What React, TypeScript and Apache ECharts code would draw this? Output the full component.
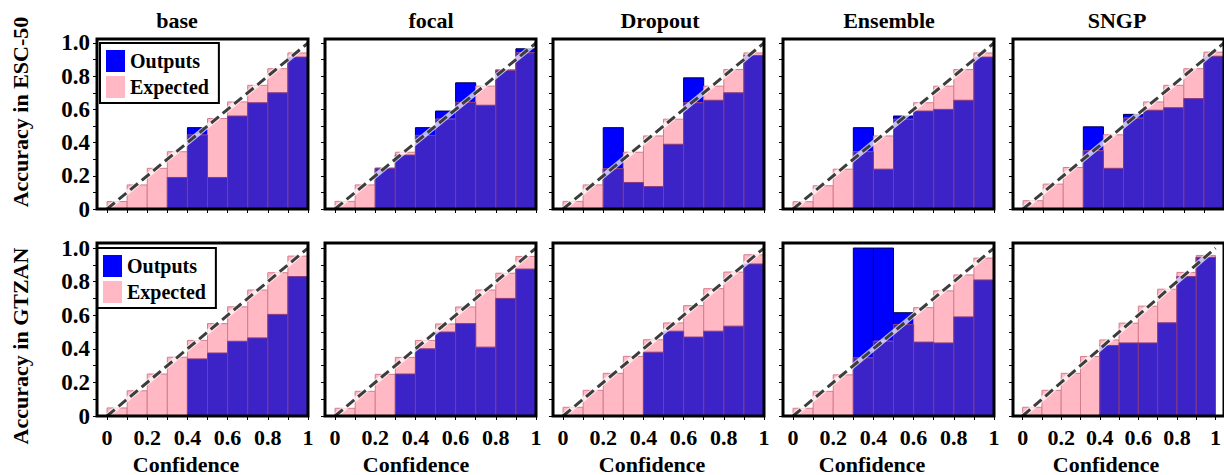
import React, { useEffect, useRef } from 'react';
import * as echarts from 'echarts';

// ---------- data ----------
const methods = ['base', 'focal', 'Dropout', 'Ensemble', 'SNGP'];
const datasets = ['ESC-50', 'GTZAN'];
const binEdges = [0, 0.1, 0.2, 0.3, 0.4, 0.5, 0.6, 0.7, 0.8, 0.9, 1.0];
const tickValues = [0, 0.2, 0.4, 0.6, 0.8, 1.0];
const xTickLabels = ['0', '0.2', '0.4', '0.6', '0.8', '1'];
const yTickLabels = ['0', '0.2', '0.4', '0.6', '0.8', '1.0'];

// ESC-50 (accuracy = Outputs, confidence = Expected)
const escBaseAcc = [0, 0, 0, 0.19, 0.49, 0.19, 0.56, 0.64, 0.70, 0.915];
const escBaseConf = [0.045, 0.145, 0.245, 0.345, 0.445, 0.545, 0.645, 0.745, 0.845, 0.94];
const escFocalAcc = [0, 0, 0.245, 0.325, 0.49, 0.59, 0.76, 0.625, 0.835, 0.965];
const escFocalConf = [0.046, 0.145, 0.245, 0.342, 0.443, 0.541, 0.642, 0.74, 0.84, 0.94];
const escDropoutAcc = [0, 0, 0.49, 0.16, 0.135, 0.39, 0.79, 0.655, 0.70, 0.925];
const escDropoutConf = [0.046, 0.145, 0.243, 0.342, 0.44, 0.541, 0.64, 0.74, 0.84, 0.94];
const escEnsembleAcc = [0, 0, 0, 0.49, 0.24, 0.56, 0.59, 0.60, 0.655, 0.915];
const escEnsembleConf = [0.044, 0.14, 0.24, 0.345, 0.44, 0.54, 0.64, 0.74, 0.84, 0.94];
const escSngpAcc = [0, 0, 0, 0.495, 0.245, 0.57, 0.595, 0.61, 0.665, 0.92];
const escSngpConf = [0.05, 0.15, 0.25, 0.35, 0.447, 0.547, 0.645, 0.745, 0.845, 0.945];

// GTZAN
const gtzBaseAcc = [0, 0, 0, 0, 0.34, 0.375, 0.445, 0.465, 0.605, 0.83];
const gtzBaseConf = [0.048, 0.15, 0.25, 0.35, 0.45, 0.55, 0.65, 0.75, 0.853, 0.952];
const gtzFocalAcc = [0, 0, 0, 0.25, 0.40, 0.50, 0.55, 0.41, 0.70, 0.875];
const gtzFocalConf = [0.046, 0.147, 0.248, 0.349, 0.45, 0.548, 0.649, 0.75, 0.85, 0.95];
const gtzDropoutAcc = [0, 0, 0, 0, 0.38, 0.505, 0.47, 0.505, 0.535, 0.905];
const gtzDropoutConf = [0.052, 0.153, 0.254, 0.355, 0.454, 0.554, 0.657, 0.758, 0.857, 0.96];
const gtzEnsembleAcc = [0, 0, 0, 1.0, 1.0, 0.615, 0.44, 0.435, 0.59, 0.81];
const gtzEnsembleConf = [0.046, 0.147, 0.245, 0.345, 0.445, 0.545, 0.645, 0.745, 0.84, 0.94];
const gtzSngpAcc = [0, 0, 0, 0, 0.42, 0.435, 0.435, 0.555, 0.83, 0.945];
const gtzSngpConf = [0.052, 0.153, 0.254, 0.354, 0.453, 0.553, 0.654, 0.755, 0.855, 0.956];

const accByRow = [
  [escBaseAcc, escFocalAcc, escDropoutAcc, escEnsembleAcc, escSngpAcc],
  [gtzBaseAcc, gtzFocalAcc, gtzDropoutAcc, gtzEnsembleAcc, gtzSngpAcc],
];
const confByRow = [
  [escBaseConf, escFocalConf, escDropoutConf, escEnsembleConf, escSngpConf],
  [gtzBaseConf, gtzFocalConf, gtzDropoutConf, gtzEnsembleConf, gtzSngpConf],
];

// ---------- layout / style ----------
const FONT = '"Liberation Serif", "Times New Roman", Times, serif';
const boxLefts = [97, 325, 553, 783, 1013];
const boxW = 211;
const xMin = -0.05;
const rowBoxes = [
  { top: 39, bottom: 209, yMax: 1.024 },
  { top: 243, bottom: 416, yMax: 1.03 },
];
const titleX = [177, 431, 660, 889, 1117];
const confX = [186, 416, 652, 872, 1106];
const yNamePos = [
  { x: 20, y: 112 },
  { x: 20, y: 346 },
];
const legendPos = [
  { left: 100, top: 43 },
  { left: 97, top: 248 },
];

const BLUE = '#0000ff';
const PINK = '#ffb8c4';
const PURPLE = '#3c23c7';

function barRender(fill: string, stroke: string, lw: number) {
  return (params: any, api: any) => {
    const x0 = api.value(0);
    const x1 = api.value(1);
    const v = api.value(2);
    if (!(v > 0)) return null;
    const a = api.coord([x0, v]);
    const b = api.coord([x1, 0]);
    return {
      type: 'rect',
      shape: { x: a[0], y: a[1], width: b[0] - a[0], height: b[1] - a[1] },
      style: { fill, stroke, lineWidth: lw },
    };
  };
}

function binData(vals: number[]) {
  return vals.map((v, k) => [binEdges[k], binEdges[k + 1], v]);
}

function tickLabel(labels: string[]) {
  return (v: number) => {
    const k = Math.round(v * 5);
    return Math.abs(v * 5 - k) < 1e-6 ? labels[k] ?? '' : '';
  };
}

function buildOption() {
  const grids: any[] = [];
  const xAxes: any[] = [];
  const yAxes: any[] = [];
  const series: any[] = [];
  const graphics: any[] = [];

  for (let r = 0; r < 2; r++) {
    const rb = rowBoxes[r];
    for (let c = 0; c < 5; c++) {
      const i = r * 5 + c;
      grids.push({
        left: boxLefts[c],
        top: rb.top,
        width: boxW,
        height: rb.bottom - rb.top,
        containLabel: false,
      });
      xAxes.push({
        gridIndex: i,
        type: 'value',
        position: 'bottom',
        min: xMin,
        max: 1,
        axisLine: { show: false, onZero: false },
        splitLine: { show: false },
        axisTick: {
          show: true,
          inside: false,
          length: 4,
          customValues: binEdges,
          lineStyle: { color: '#000', width: 1 },
        },
        axisLabel: {
          show: r === 1,
          customValues: tickValues,
          margin: 10,
          fontFamily: FONT,
          fontWeight: 'bold',
          fontSize: 22,
          color: '#000',
          formatter: tickLabel(xTickLabels),
        },
      });
      yAxes.push({
        gridIndex: i,
        type: 'value',
        position: 'left',
        min: 0,
        max: rb.yMax,
        axisLine: { show: false, onZero: false },
        splitLine: { show: false },
        axisTick: {
          show: true,
          inside: false,
          length: 4,
          customValues: binEdges,
          lineStyle: { color: '#000', width: 1 },
        },
        axisLabel: {
          show: c === 0,
          customValues: tickValues,
          margin: 7,
          fontFamily: FONT,
          fontWeight: 'bold',
          fontSize: 23,
          color: '#000',
          formatter: tickLabel(yTickLabels),
        },
      });

      const acc = accByRow[r][c];
      const conf = confByRow[r][c];
      const overlap = acc.map((a, k) => Math.min(a, conf[k]));

      series.push({
        type: 'custom',
        name: 'Outputs',
        xAxisIndex: i,
        yAxisIndex: i,
        data: binData(acc),
        encode: { x: [0, 1], y: 2 },
        renderItem: barRender(BLUE, '#00004a', 1),
        itemStyle: { color: BLUE },
        z: 2,
      });
      series.push({
        type: 'custom',
        name: 'Expected',
        xAxisIndex: i,
        yAxisIndex: i,
        data: binData(conf),
        encode: { x: [0, 1], y: 2 },
        renderItem: barRender(PINK, '#d47c8c', 1),
        itemStyle: { color: PINK },
        z: 3,
      });
      series.push({
        type: 'custom',
        name: 'Overlap',
        xAxisIndex: i,
        yAxisIndex: i,
        data: binData(overlap),
        encode: { x: [0, 1], y: 2 },
        renderItem: barRender(PURPLE, '#8a3a7e', 1),
        itemStyle: { color: PURPLE },
        z: 4,
      });
      series.push({
        type: 'line',
        name: 'diag-halo',
        xAxisIndex: i,
        yAxisIndex: i,
        data: [[0, 0], [1, 1]],
        symbol: 'none',
        silent: true,
        lineStyle: { color: '#ffffff', width: 5, opacity: 0.7 },
        z: 5,
      });
      series.push({
        type: 'line',
        name: 'diag',
        xAxisIndex: i,
        yAxisIndex: i,
        data: [[0, 0], [1, 1]],
        symbol: 'none',
        silent: true,
        lineStyle: { color: '#3d3d3d', width: 3, type: [10, 5] },
        z: 6,
      });

      graphics.push({
        type: 'rect',
        silent: true,
        z: 100,
        shape: { x: boxLefts[c], y: rb.top, width: boxW, height: rb.bottom - rb.top },
        style: { fill: 'none', stroke: '#000', lineWidth: 3 },
      });
    }
  }

  const textStyle = (text: string) => ({
    text,
    fill: '#000',
    fontFamily: FONT,
    fontWeight: 'bold',
    fontSize: 22,
    align: 'center',
    verticalAlign: 'middle',
    textAlign: 'center',
    textVerticalAlign: 'middle',
  });

  methods.forEach((m, c) => {
    graphics.push({ type: 'text', x: titleX[c], y: 20, z: 110, style: textStyle(m) });
    graphics.push({ type: 'text', x: confX[c], y: 464, z: 110, style: textStyle('Confidence') });
  });
  datasets.forEach((d, r) => {
    graphics.push({
      type: 'text',
      x: yNamePos[r].x,
      y: yNamePos[r].y,
      rotation: Math.PI / 2,
      z: 110,
      style: textStyle('Accuracy in ' + d),
    });
  });

  const legends = legendPos.map((p) => ({
    show: true,
    orient: 'vertical',
    left: p.left,
    top: p.top,
    data: ['Outputs', 'Expected'],
    icon: 'rect',
    itemWidth: 19,
    itemHeight: 22,
    itemGap: 4,
    padding: [7, 10, 5, 6],
    borderColor: '#000',
    borderWidth: 2,
    backgroundColor: '#fff',
    selectedMode: false,
    z: 20,
    itemStyle: { borderWidth: 0 },
    textStyle: { fontFamily: FONT, fontWeight: 'bold', fontSize: 20, color: '#000' },
  }));

  return {
    animation: false,
    backgroundColor: '#ffffff',
    legend: legends,
    grid: grids,
    xAxis: xAxes,
    yAxis: yAxes,
    series,
    graphic: graphics,
  };
}

export default function App() {
  const ref = useRef<HTMLDivElement>(null);
  useEffect(() => {
    if (!ref.current) return;
    const chart = echarts.init(ref.current, undefined, { renderer: 'svg' });
    chart.setOption(buildOption() as any);
    return () => chart.dispose();
  }, []);
  return (
    <div
      ref={ref}
      style={{ position: 'absolute', left: 0, top: 0, width: 1224, height: 475, background: '#fff' }}
    />
  );
}
